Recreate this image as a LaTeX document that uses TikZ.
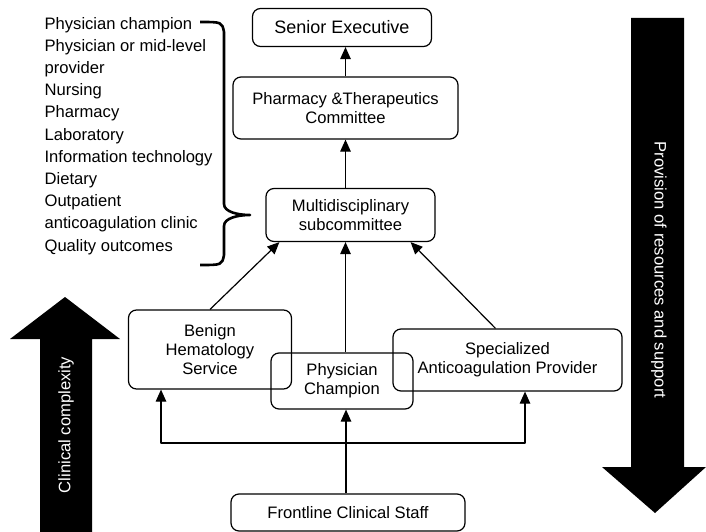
\documentclass[tikz,border=0pt]{standalone}
\usepackage{fontspec}
\setmainfont{Liberation Sans}
\usetikzlibrary{arrows.meta}

\begin{document}
\begin{tikzpicture}[x=1pt, y=-1pt, line join=round, line width=1.2pt, >={Triangle[length=12pt,width=10.5pt]},
	box/.style={draw, rounded corners=8pt, align=center, inner sep=0pt, font=\fontsize{16.6}{19}\selectfont},
	bigarrow/.style={fill=black, draw=none}]
	\useasboundingbox (0,0) rectangle (706,532);
	% the hierarchy
	\node[box, minimum width=179pt, minimum height=38pt, font=\fontsize{18}{20}\selectfont] (senior) at (342,27.5) {Senior Executive};
	\node[box, minimum width=225pt, minimum height=62pt] (pt) at (345.5,108) {Pharmacy \&Therapeutics\\Committee};
	\node[box, minimum width=169pt, minimum height=53pt] (multi) at (350.5,215) {Multidisciplinary\\subcommittee};
	\node[box, minimum width=163pt, minimum height=79pt] (benign) at (210,349.5) {Benign\\Hematology\\Service};
	\node[box, minimum width=229pt, minimum height=62pt] (special) at (507.5,360) {Specialized\\Anticoagulation Provider};
	\node[box, minimum width=142pt, minimum height=56pt] (champ) at (342,381) {Physician\\Champion};
	\node[box, minimum width=234pt, minimum height=37pt] (front) at (348,512.5) {Frontline Clinical Staff};
	\draw[->] (pt.north) -- (pt.north |- senior.south);
	\draw[->] (pt.south |- multi.north) -- (pt.south);
	\draw[->] (benign.north) -- ([xshift=14pt]multi.south west);
	\draw[->] (champ.north -| 345.5,0) -- (multi.south -| 345.5,0);
	\draw[->] ([xshift=-12pt]special.north) -- ([xshift=-25pt]multi.south east);
	\coordinate (split) at (346,443);
	\draw (split |- front.north) -- (split);
	\draw[->] (split) -- (split |- champ.south);
	\draw[->] (split) -| ([xshift=-49pt]benign.south);
	\draw[->] (split) -| ([xshift=17.5pt]special.south);
	% members and brace
	\node[anchor=north west, align=left, inner sep=0pt, font=\fontsize{16.6}{22.2}\selectfont] (roles) at (44,16.4) {Physician champion\\Physician or mid-level\\provider\\Nursing\\Pharmacy\\Laboratory\\Information technology\\Dietary\\Outpatient\\anticoagulation clinic\\Quality outcomes};
	\draw[line width=2.6pt] (200,22) .. controls (222,22) .. (224,32) -- (224,204) .. controls (224,212) and (238,215) .. (250,215)
		.. controls (238,215) and (224,218) .. (224,226) -- (224,255) .. controls (222,265) .. (200,265);
	% side arrows
	\fill[bigarrow] (40,532) -- (40,339) -- (10,339) -- (65,297) -- (120,339) -- (92,339) -- (92,532) -- cycle;
	\node[rotate=90, white, font=\fontsize{16.6}{19}\selectfont] (clin) at (66,425) {Clinical complexity};
	\fill[bigarrow] (631,18) -- (684,18) -- (684,467) -- (706,467) -- (655,513) -- (602,467) -- (631,467) -- cycle;
	\node[rotate=-90, white, font=\fontsize{16.6}{19}\selectfont] (prov) at (659,270) {Provision of resources and support};
\end{tikzpicture}
\end{document}
